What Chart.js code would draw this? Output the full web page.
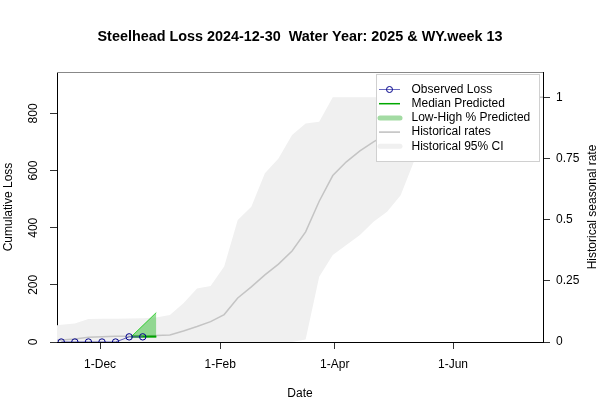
<!DOCTYPE html>
<html>
<head>
<meta charset="utf-8">
<script src="https://cdn.jsdelivr.net/npm/chart.js@4.4.1/dist/chart.umd.min.js"></script>
<style>
  html, body { margin: 0; padding: 0; background: #fff; }
  #wrap { position: relative; width: 600px; height: 400px; }
</style>
</head>
<body>
<div id="wrap"><canvas id="lossChart" width="600" height="400"></canvas></div>
<script>
// x values are days counted from 1-Dec-2024 (weekly, Mondays)
const obsDays = [-20, -13, -6, 1, 8, 15, 22];
const obsLoss = [0, 0, 0, 0, 0, 18, 18];

const predDays = [16, 29];
const predMedian = [19, 19];
const predLow = [18, 18];
const predHigh = [18, 103];

const histDays = [-27, -20, -13, -6, 1, 8, 15, 22, 29, 36, 43, 50, 57, 64, 71, 78, 85, 92, 99,
  106, 113, 120, 127, 134, 141, 148, 155, 162, 169, 176, 183, 190, 197, 204, 211, 218, 225, 232];
const histRate = [0.006, 0.008, 0.012, 0.019, 0.021, 0.023, 0.024, 0.025, 0.027, 0.029, 0.045, 0.063,
  0.083, 0.112, 0.18, 0.225, 0.274, 0.318, 0.372, 0.45, 0.575, 0.68, 0.736, 0.781, 0.818, 0.85,
  0.88, 0.91, 0.94, 0.96, 0.98, 0.99, 1, 1, 1, 1, 1, 1];
const histUpper = [0.066, 0.07, 0.076, 0.094, 0.095, 0.095, 0.096, 0.097, 0.1, 0.11, 0.158, 0.219,
  0.229, 0.308, 0.498, 0.553, 0.689, 0.75, 0.846, 0.893, 0.9, 1, 1, 1, 1, 1, 1, 1, 1, 1, 1, 1,
  1, 1, 1, 1, 1, 1];
const histLower = [0, 0, 0, 0, 0, 0, 0, 0, 0, 0, 0, 0, 0, 0, 0, 0, 0, 0, 0,
  0.01, 0.267, 0.355, 0.396, 0.437, 0.491, 0.532, 0.6, 0.74, 0.85, 0.93, 0.98, 1, 1, 1, 1, 1, 1, 1];

const xTickDays = [0, 62, 121, 182];
const xTickLabels = ['1-Dec', '1-Feb', '1-Apr', '1-Jun'];
const lossTicks = [0, 200, 400, 600, 800];
const rateTicks = [0, 0.25, 0.5, 0.75, 1];
const rateTickLabels = ['0', '0.25', '0.5', '0.75', '1'];

const titleText = 'Steelhead Loss 2024-12-30  Water Year: 2025 & WY.week 13';
const FONT = '"Liberation Sans", Arial, Helvetica, sans-serif';

const pts = (xs, ys) => xs.map((x, i) => ({ x, y: ys[i] }));

Chart.defaults.font.family = FONT;
Chart.defaults.font.size = 12;
Chart.defaults.color = '#000';

const legendItems = [
  { label: 'Observed Loss', kind: 'obs' },
  { label: 'Median Predicted', kind: 'line', color: '#00a800', width: 1.5 },
  { label: 'Low-High % Predicted', kind: 'thick', color: '#a3dba3' },
  { label: 'Historical rates', kind: 'line', color: '#bebebe', width: 1.5 },
  { label: 'Historical 95% CI', kind: 'thick', color: '#f0f0f0' },
];

// R-like decorations: title, axis titles, rotated left tick labels, box top, legend
const decorations = {
  id: 'decorations',
  afterDraw(chart) {
    const { ctx, chartArea: a, scales } = chart;
    ctx.save();

    // box top line
    ctx.strokeStyle = '#888';
    ctx.lineWidth = 1;
    ctx.beginPath();
    ctx.moveTo(a.left, a.top + 0.5);
    ctx.lineTo(a.right, a.top + 0.5);
    ctx.stroke();

    ctx.fillStyle = '#000';
    // title
    ctx.font = `bold 14.4px ${FONT}`;
    ctx.textAlign = 'center';
    ctx.textBaseline = 'middle';
    ctx.fillText(titleText, (a.left + a.right) / 2, 37);

    ctx.font = `12px ${FONT}`;
    // x title
    ctx.textBaseline = 'alphabetic';
    ctx.fillText('Date', (a.left + a.right) / 2, 397);

    // left tick labels, rotated like R
    lossTicks.forEach((v) => {
      const y = scales.y.getPixelForValue(v);
      ctx.save();
      ctx.translate(37, y);
      ctx.rotate(-Math.PI / 2);
      ctx.fillText(String(v), 0, 0);
      ctx.restore();
    });

    const midY = (a.top + a.bottom) / 2;
    ctx.save();
    ctx.translate(11.5, midY);
    ctx.rotate(-Math.PI / 2);
    ctx.fillText('Cumulative Loss', 0, 0);
    ctx.restore();

    ctx.save();
    ctx.translate(596, midY);
    ctx.rotate(-Math.PI / 2);
    ctx.fillText('Historical seasonal rate', 0, 0);
    ctx.restore();

    // legend
    const lx = 376.5, ly = 74.5, lw = 163, lh = 87;
    ctx.fillStyle = '#fff';
    ctx.fillRect(lx, ly, lw, lh);
    ctx.strokeStyle = '#d0d0d0';
    ctx.lineWidth = 1;
    ctx.strokeRect(lx, ly, lw, lh);
    ctx.textAlign = 'left';
    ctx.textBaseline = 'middle';
    legendItems.forEach((it, i) => {
      const y = 89.5 + i * 14.2;
      ctx.lineCap = 'butt';
      if (it.kind === 'obs') {
        ctx.strokeStyle = '#6a6ac0';
        ctx.lineWidth = 1;
        ctx.beginPath();
        ctx.moveTo(379, y);
        ctx.lineTo(400, y);
        ctx.stroke();
        ctx.strokeStyle = '#00008b';
        ctx.beginPath();
        ctx.arc(389.5, y, 3, 0, Math.PI * 2);
        ctx.stroke();
      } else if (it.kind === 'line') {
        ctx.strokeStyle = it.color;
        ctx.lineWidth = it.width;
        ctx.beginPath();
        ctx.moveTo(379, y);
        ctx.lineTo(400, y);
        ctx.stroke();
      } else {
        ctx.strokeStyle = it.color;
        ctx.lineWidth = 5;
        ctx.lineCap = 'round';
        ctx.beginPath();
        ctx.moveTo(380, y);
        ctx.lineTo(400, y);
        ctx.stroke();
      }
      ctx.fillStyle = '#000';
      ctx.fillText(it.label, 411.5, y);
    });

    ctx.restore();
  },
};

const config = {
  type: 'line',
  data: {
    datasets: [
      {
        label: 'Observed Loss',
        data: pts(obsDays, obsLoss),
        yAxisID: 'y',
        borderColor: '#5a5ab4',
        borderWidth: 1,
        pointRadius: 3.2,
        pointBorderColor: '#00008b',
        pointBackgroundColor: 'rgba(0,0,0,0)',
        pointBorderWidth: 1,
        fill: false,
        clip: 0,
        order: 0,
      },
      {
        label: 'Median Predicted',
        data: pts(predDays, predMedian),
        yAxisID: 'y',
        borderColor: '#00a000',
        borderWidth: 2,
        pointRadius: 0,
        fill: false,
        order: 1,
      },
      {
        label: 'High Predicted',
        data: pts(predDays, predHigh),
        yAxisID: 'y',
        borderColor: 'rgba(0,200,0,0.7)',
        borderWidth: 1,
        backgroundColor: 'rgba(50,190,50,0.5)',
        pointRadius: 0,
        fill: '+1',
        order: 2,
      },
      {
        label: 'Low Predicted',
        data: pts(predDays, predLow),
        yAxisID: 'y',
        borderColor: 'rgba(0,200,0,0.7)',
        borderWidth: 1,
        pointRadius: 0,
        fill: false,
        order: 3,
      },
      {
        label: 'Historical rates',
        data: pts(histDays, histRate),
        yAxisID: 'y1',
        borderColor: '#c4c4c4',
        borderWidth: 1.5,
        pointRadius: 0,
        fill: false,
        order: 4,
      },
      {
        label: 'Historical 95% CI upper',
        data: pts(histDays, histUpper),
        yAxisID: 'y1',
        borderColor: 'rgba(0,0,0,0)',
        borderWidth: 0,
        backgroundColor: '#f0f0f0',
        pointRadius: 0,
        fill: '+1',
        order: 5,
      },
      {
        label: 'Historical 95% CI lower',
        data: pts(histDays, histLower),
        yAxisID: 'y1',
        borderColor: 'rgba(0,0,0,0)',
        borderWidth: 0,
        pointRadius: 0,
        fill: false,
        order: 6,
      },
    ],
  },
  options: {
    responsive: false,
    animation: false,
    devicePixelRatio: 1,
    layout: { padding: { top: 72, left: 0, right: 0, bottom: 0 } },
    plugins: {
      legend: { display: false },
      tooltip: { enabled: false },
      title: { display: false },
    },
    elements: { line: { tension: 0 } },
    scales: {
      x: {
        type: 'linear',
        min: -22.2,
        max: 228.4,
        afterBuildTicks: (s) => { s.ticks = xTickDays.map((v) => ({ value: v })); },
        afterFit: (s) => { s.height = 58; },
        ticks: {
          padding: 8,
          maxRotation: 0,
          autoSkip: false,
          callback: (v) => xTickLabels[xTickDays.indexOf(v)] ?? '',
        },
        grid: { drawOnChartArea: false, drawTicks: true, tickLength: 7, tickColor: '#333' },
        border: { color: '#000', width: 1 },
      },
      y: {
        type: 'linear',
        position: 'left',
        min: 0,
        max: 945,
        afterBuildTicks: (s) => { s.ticks = lossTicks.map((v) => ({ value: v })); },
        afterFit: (s) => { s.width = 57; },
        ticks: { display: false },
        grid: { drawOnChartArea: false, drawTicks: true, tickLength: 7, tickColor: '#333' },
        border: { color: '#000', width: 1 },
      },
      y1: {
        type: 'linear',
        position: 'right',
        min: 0,
        max: 1.103,
        afterBuildTicks: (s) => { s.ticks = rateTicks.map((v) => ({ value: v })); },
        afterFit: (s) => { s.width = 57; },
        ticks: {
          padding: 6,
          callback: (v) => rateTickLabels[rateTicks.indexOf(v)] ?? '',
        },
        grid: { drawOnChartArea: false, drawTicks: true, tickLength: 7, tickColor: '#333' },
        border: { color: '#000', width: 1 },
      },
    },
  },
  plugins: [decorations],
};

const chart = new Chart(document.getElementById('lossChart'), config);
</script>
</body>
</html>
